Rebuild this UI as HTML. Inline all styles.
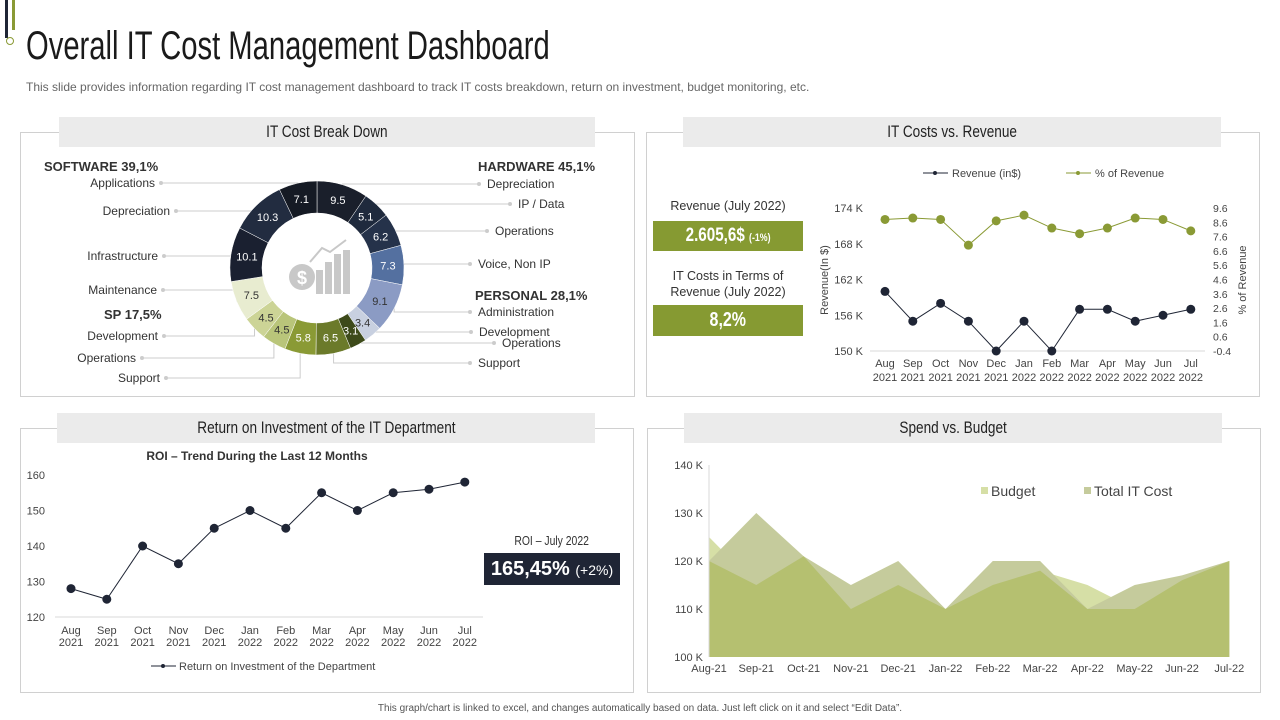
<!DOCTYPE html>
<html><head><meta charset="utf-8">
<style>
body{margin:0;width:1280px;height:720px;background:#fff;font-family:"Liberation Sans",sans-serif;position:relative;overflow:hidden;color:#333}
.abs{position:absolute}
.box{position:absolute;border:1px solid #d0d0d0;background:#fff}
.hdr{position:absolute;background:#ebebeb;height:30px;font-size:17px;text-align:center;line-height:30px;color:#222}
.hdr span{display:inline-block;transform:scaleX(0.8)}
svg text{font-family:"Liberation Sans",sans-serif}
</style></head><body>
<div class="abs" style="left:5px;top:0;width:3px;height:38px;background:#1f2535"></div>
<div class="abs" style="left:12px;top:0;width:3px;height:30px;background:#8a9a35"></div>
<div class="abs" style="left:6px;top:37px;width:6px;height:6px;border:1px solid #8a9a35;border-radius:50%"></div>
<div class="abs" style="left:26px;top:24px;font-size:40px;color:#1a1a1a;transform:scaleX(0.73);transform-origin:left top;white-space:nowrap">Overall IT Cost Management Dashboard</div>
<div class="abs" style="left:26px;top:80px;font-size:12px;color:#666;white-space:nowrap">This slide provides information regarding IT cost management dashboard to track IT  costs breakdown, return on investment, budget monitoring, etc.</div>

<div class="box" style="left:20px;top:132px;width:613px;height:263px"></div>
<div class="box" style="left:646px;top:132px;width:612px;height:263px"></div>
<div class="box" style="left:20px;top:428px;width:612px;height:263px"></div>
<div class="box" style="left:647px;top:428px;width:612px;height:263px"></div>
<div class="hdr" style="left:59px;top:117px;width:536px"><span>IT Cost Break Down</span></div>
<div class="hdr" style="left:683px;top:117px;width:538px"><span>IT Costs  vs. Revenue</span></div>
<div class="hdr" style="left:57px;top:413px;width:538px"><span>Return  on Investment  of the IT Department</span></div>
<div class="hdr" style="left:684px;top:413px;width:538px"><span>Spend  vs. Budget</span></div>

<svg class="abs" style="left:0;top:0" width="1280" height="720" id="main">
<g id="donut"></g>
<g id="donutLabels" font-size="12" fill="#333">
 <text x="44" y="171" font-weight="bold" font-size="13">SOFTWARE  39,1%</text>
 <text x="478" y="171" font-weight="bold" font-size="13">HARDWARE  45,1%</text>
 <text x="475" y="300" font-weight="bold" font-size="13">PERSONAL  28,1%</text>
 <text x="104" y="319" font-weight="bold" font-size="13">SP 17,5%</text>
</g>
<g id="rev"></g>
<g id="roi"></g>
<g id="spend"></g>
</svg>

<div class="abs" style="left:653px;top:199px;width:150px;text-align:center;font-size:12.5px">Revenue  (July 2022)</div>
<div class="abs" style="left:653px;top:221px;width:150px;height:30px;background:#869a32;color:#fff;text-align:center;line-height:30px;font-size:19px;font-weight:bold"><span style="display:inline-block;transform:scaleX(0.8)">2.605,6$ <span style="font-size:11px">(-1%)</span></span></div>
<div class="abs" style="left:653px;top:268px;width:150px;text-align:center;font-size:12.5px;line-height:16px">IT Costs in Terms of Revenue  (July 2022)</div>
<div class="abs" style="left:653px;top:305px;width:150px;height:31px;background:#869a32;color:#fff;text-align:center;line-height:31px;font-size:20px;font-weight:bold"><span style="display:inline-block;transform:scaleX(0.8)">8,2%</span></div>
<div class="abs" style="left:484px;top:533px;width:136px;text-align:center;font-size:13px"><span style="display:inline-block;transform:scaleX(0.8)">ROI – July 2022</span></div>
<div class="abs" style="left:484px;top:553px;width:136px;height:32px;background:#1f2535;color:#fff;text-align:center;line-height:32px;font-size:20px;font-weight:bold">165,45% <span style="font-size:14px;font-weight:normal">(+2%)</span></div>
<div class="abs" style="left:0;top:703px;width:1280px;text-align:center;font-size:10px;color:#555">This graph/chart is linked to excel, and changes automatically based on data. Just left click on it and select “Edit Data”.</div>

<script>
const NS="http://www.w3.org/2000/svg";
function mk(parent,tag,attrs,text){const e=document.createElementNS(NS,tag);for(const k in attrs)e.setAttribute(k,attrs[k]);if(text!==undefined)e.textContent=text;parent.appendChild(e);return e;}

// ---- Donut data ----
const donutValues=[9.5,5.1,6.2,7.3,9.1,3.4,3.1,6.5,5.8,4.5,4.5,7.5,10.1,10.3,7.1];
const donutColors=["#1a1f2b","#1f2a3d","#25324a","#5470a0","#8b9bc4","#c8d0e0","#3d4a1a","#6b7a2a","#8a9a35","#b9c57a","#ccd496","#e8ecd0","#1a2030","#222c40","#151a24"];
const donutLabelDark=[0,0,0,0,1,1,0,0,0,1,1,1,0,0,0];
const donutNames=["Depreciation","IP / Data","Operations","Voice, Non IP","Administration","Development","Operations","Support","Support","Operations","Development","Maintenance","Infrastructure","Depreciation","Applications"];
const donutLabelPos=[[487,188,"s"],[518,208,"s"],[495,235,"s"],[478,268,"s"],[478,316,"s"],[479,336,"s"],[502,347,"s"],[478,367,"s"],[160,382,"e"],[136,362,"e"],[158,340,"e"],[157,294,"e"],[158,260,"e"],[170,215,"e"],[155,187,"e"]];
(function(){
 const g=document.getElementById('donut');const cx=317,cy=268,R=87,r=55;
 const tot=donutValues.reduce((a,b)=>a+b,0);let a0=0;
 const lines=mk(g,'g',{});
 donutValues.forEach((v,i)=>{
  const a1=a0+v/tot*Math.PI*2;
  const p=(a,rad)=>[cx+rad*Math.sin(a),cy-rad*Math.cos(a)];
  const [x0,y0]=p(a0,R),[x1,y1]=p(a1,R),[x2,y2]=p(a1,r),[x3,y3]=p(a0,r);
  const lg=(a1-a0)>Math.PI?1:0;
  const s=mk(g,'path',{d:`M${x0},${y0}A${R},${R} 0 ${lg} 1 ${x1},${y1}L${x2},${y2}A${r},${r} 0 ${lg} 0 ${x3},${y3}Z`,fill:donutColors[i],stroke:'#fff','stroke-width':0.5});
  
  
  const am=(a0+a1)/2;const [lx,ly]=p(am,(R+r)/2);
  const t=mk(g,'text',{x:lx,y:ly+4,'text-anchor':'middle','font-size':11,fill:donutLabelDark[i]?'#333':'#fff'},String(v));
  
  
  const [ex,ey]=p(am,R);const lp=donutLabelPos[i];
  const lx2=lp[2]==='s'?lp[0]-8:lp[0]+6;const ly2=lp[1]-4;
  mk(lines,'polyline',{points:`${ex},${ey} ${ex},${ly2} ${lx2},${ly2}`,fill:'none',stroke:'#ccc','stroke-width':1});
  mk(lines,'circle',{cx:lx2,cy:ly2,r:2,fill:'#ccc'});
  const nt=mk(g,'text',{x:lp[0],y:lp[1],'font-size':12,fill:'#333','text-anchor':lp[2]==='s'?'start':'end'},donutNames[i]);
  
  
  a0=a1;
 });
 mk(g,'circle',{cx:302,cy:277,r:13,fill:'#c8c8c8'});
 mk(g,'text',{x:302,y:284,'text-anchor':'middle','font-size':18,'font-weight':'bold',fill:'#fff'},'$');
 [[316,270,7],[325,262,7],[334,254,7],[343,250,7]].forEach(b=>mk(g,'rect',{x:b[0],y:b[1],width:b[2],height:294-b[1],fill:'#c8c8c8'}));
 mk(g,'polyline',{points:'310,262 322,248 330,252 346,240',fill:'none',stroke:'#c8c8c8','stroke-width':2});
})();

// ---- Revenue chart ----
const months=["Aug","Sep","Oct","Nov","Dec","Jan","Feb","Mar","Apr","May","Jun","Jul"];
const years=["2021","2021","2021","2021","2021","2022","2022","2022","2022","2022","2022","2022"];
const revenueK=[160,155,158,155,150,155,150,157,157,155,156,157];
const pctRevenue=[8.8,8.9,8.8,7.0,8.7,9.1,8.2,7.8,8.2,8.9,8.8,8.0];
const revTicks=[150,156,162,168,174];
const pctTicks=[-0.4,0.6,1.6,2.6,3.6,4.6,5.6,6.6,7.6,8.6,9.6];
(function(){
 const g=document.getElementById('rev');
 const X=i=>885+i*27.8, Y=v=>351-(v-150)/24*143, Y2=v=>351-(v+0.4)/10*143;
 revTicks.forEach(t=>mk(g,'text',{x:863,y:Y(t)+4,'text-anchor':'end','font-size':11,fill:'#444'},t+' K'));
 pctTicks.forEach(t=>mk(g,'text',{x:1213,y:Y2(t)+4,'font-size':10.5,fill:'#444'},t.toFixed(1)));
 mk(g,'line',{x1:870,y1:351,x2:1205,y2:351,stroke:'#d9d9d9'});
 months.forEach((m,i)=>{mk(g,'text',{x:X(i),y:367,'text-anchor':'middle','font-size':11,fill:'#444'},m);mk(g,'text',{x:X(i),y:381,'text-anchor':'middle','font-size':11,fill:'#444'},years[i]);});
 mk(g,'text',{x:0,y:0,transform:'translate(828,280) rotate(-90)','text-anchor':'middle','font-size':11,fill:'#444'},'Revenue(In $)');
 mk(g,'text',{x:0,y:0,transform:'translate(1246,280) rotate(-90)','text-anchor':'middle','font-size':11,fill:'#444'},'% of Revenue');
 mk(g,'polyline',{points:pctRevenue.map((v,i)=>X(i)+','+Y2(v)).join(' '),fill:'none',stroke:'#8a9a35','stroke-width':1});
 mk(g,'polyline',{points:revenueK.map((v,i)=>X(i)+','+Y(v)).join(' '),fill:'none',stroke:'#1f2535','stroke-width':1});
 pctRevenue.forEach((v,i)=>{const c=mk(g,'circle',{cx:X(i),cy:Y2(v),r:4.5,fill:'#8a9a35'});});
 revenueK.forEach((v,i)=>{const c=mk(g,'circle',{cx:X(i),cy:Y(v),r:4.5,fill:'#1f2535'});});
 mk(g,'line',{x1:923,y1:173,x2:948,y2:173,stroke:'#1f2535'});mk(g,'circle',{cx:935,cy:173,r:2,fill:'#1f2535'});
 mk(g,'text',{x:952,y:177,'font-size':11,fill:'#444'},'Revenue (in$)');
 mk(g,'line',{x1:1066,y1:173,x2:1091,y2:173,stroke:'#8a9a35'});mk(g,'circle',{cx:1078,cy:173,r:2,fill:'#8a9a35'});
 mk(g,'text',{x:1095,y:177,'font-size':11,fill:'#444'},'% of Revenue');
})();

// ---- ROI chart ----
const roiValues=[128,125,140,135,145,150,145,155,150,155,156,158];
const roiTicks=[120,130,140,150,160];
(function(){
 const g=document.getElementById('roi');
 const X=i=>71+i*35.8, Y=v=>617-(v-120)/40*142;
 mk(g,'text',{x:257,y:460,'text-anchor':'middle','font-size':12,'font-weight':'bold',fill:'#333'},'ROI – Trend During  the Last 12 Months');
 roiTicks.forEach(t=>mk(g,'text',{x:45,y:Y(t)+4,'text-anchor':'end','font-size':11,fill:'#444'},t));
 mk(g,'line',{x1:55,y1:617,x2:483,y2:617,stroke:'#d9d9d9'});
 months.forEach((m,i)=>{mk(g,'text',{x:X(i),y:634,'text-anchor':'middle','font-size':11,fill:'#444'},m);mk(g,'text',{x:X(i),y:646,'text-anchor':'middle','font-size':11,fill:'#444'},years[i]);});
 mk(g,'polyline',{points:roiValues.map((v,i)=>X(i)+','+Y(v)).join(' '),fill:'none',stroke:'#1f2535','stroke-width':1});
 roiValues.forEach((v,i)=>{const c=mk(g,'circle',{cx:X(i),cy:Y(v),r:4.5,fill:'#1f2535'});});
 mk(g,'line',{x1:151,y1:666,x2:176,y2:666,stroke:'#1f2535'});mk(g,'circle',{cx:163,cy:666,r:2,fill:'#1f2535'});
 mk(g,'text',{x:179,y:670,'font-size':11,fill:'#444'},'Return on Investment of the Department');
})();

// ---- Spend vs Budget ----
const spendMonths=["Aug-21","Sep-21","Oct-21","Nov-21","Dec-21","Jan-22","Feb-22","Mar-22","Apr-22","May-22","Jun-22","Jul-22"];
const budget=[125,115,121,110,115,110,115,118,115,110,116,120];
const totalITCost=[120,130,121,115,120,110,120,120,110,115,117,120];
const spendTicks=[100,110,120,130,140];
(function(){
 const g=document.getElementById('spend');
 const X=i=>709+i*47.3, Y=v=>657-(v-100)/40*192;
 spendTicks.forEach(t=>mk(g,'text',{x:703,y:Y(t)+4,'text-anchor':'end','font-size':11,fill:'#444'},t+' K'));
 const area=(arr,fill,name)=>{const a=mk(g,'path',{d:'M'+X(0)+','+Y(100)+' '+arr.map((v,i)=>'L'+X(i)+','+Y(v)).join(' ')+' L'+X(arr.length-1)+','+Y(100)+'Z',fill:fill});};
 area(budget,'#d6dfa6','budget-area');
 area(totalITCost,'#c5cb9c','total-it-cost-area');
 area(budget.map((v,i)=>Math.min(v,totalITCost[i])),'#b5c070','overlap-area');
 mk(g,'line',{x1:709,y1:465,x2:709,y2:657,stroke:'#d9d9d9'});
 spendMonths.forEach((m,i)=>mk(g,'text',{x:X(i),y:672,'text-anchor':'middle','font-size':11,fill:'#444'},m));
 mk(g,'rect',{x:981,y:487,width:7,height:7,fill:'#d6dfa6'});
 mk(g,'text',{x:991,y:496,'font-size':14,fill:'#444'},'Budget');
 mk(g,'rect',{x:1084,y:487,width:7,height:7,fill:'#c5cb9c'});
 mk(g,'text',{x:1094,y:496,'font-size':14,fill:'#444'},'Total IT Cost');
})();
</script>
</body></html>
